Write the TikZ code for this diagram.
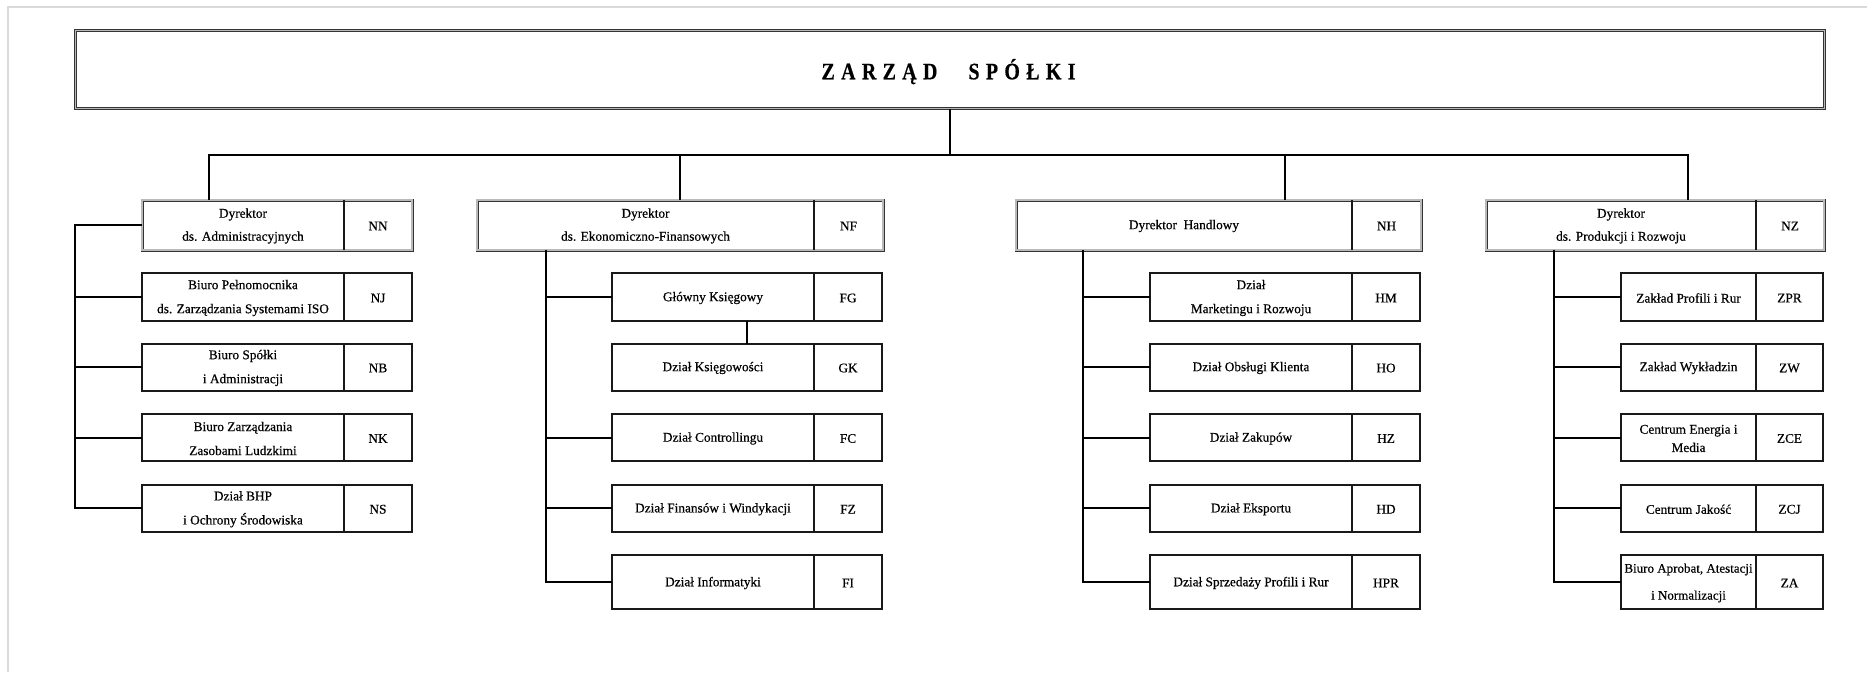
\documentclass[tikz,border=0pt]{standalone}
\usepackage{fontspec}
\setmainfont{Liberation Serif}[FakeBold=0.5]
\usepackage{graphicx}
\usetikzlibrary{calc}

\newcommand\unitbox[9]{% name, x1, y1, xdiv, x2, y2, text, code, baselineskip
  \node[childbox, minimum width={#5-#2}, minimum height={#6-#3}] (#1) at (#2,#3) {};
  \draw[boxline] (#4,#3) -- (#4,#6);
  \node[lbl, font={\fontsize{13.3}{#9}\selectfont}] (#1-t) at ({(#2+#4)/2},{(#3+#6)/2}) {#7};
  \node[lbl] (#1-c) at ({(#4+#5)/2},{(#3+#6)/2}) {#8};}

\newcommand\dirunit[9]{% name, x1, y1, xdiv, x2, y2, text, code, baselineskip
  \node[dirbox, minimum width={#5-#2}, minimum height={#6-#3}] (#1) at (#2,#3) {};
  \draw[dirline] (#4,#3) -- (#4,#6);
  \node[lbl, font={\fontsize{13.3}{#9}\selectfont}] (#1-t) at ({(#2+#4)/2},{(#3+#6)/2}) {#7};
  \node[lbl] (#1-c) at ({(#4+#5)/2},{(#3+#6)/2}) {#8};}

\begin{document}
\begin{tikzpicture}[x=1pt,y=-1pt,
  boxline/.style={draw=black!90, line width=2pt},
  dirline/.style={draw=black!90, line width=1.6pt},
  childbox/.style={rectangle, boxline, anchor=north west, inner sep=0pt, outer sep=0pt},
  dirbox/.style={rectangle, draw=black!80, line width=0.9pt, double=gray!55, double distance=1.2pt, anchor=north west, inner sep=0pt, outer sep=0pt},
  topbox/.style={rectangle, draw=black!80, line width=0.9pt, double=gray!55, double distance=1.6pt, anchor=north west, inner sep=0pt, outer sep=0pt},
  lbl/.style={align=center, inner sep=0pt, yshift=-1pt, font={\fontsize{13.3}{24}\selectfont}},
  conn/.style={draw=black, line width=2pt},
  pageframe/.style={draw=black!15, line width=1.5pt}]

\useasboundingbox (0,0) rectangle (1867,672);
\fill[white] (0,0) rectangle (1867,672);
\draw[pageframe] (8,672) -- (8,7) -- (1867,7);

% top box
\node[topbox, minimum width=1749, minimum height=78] (top) at (75.5,30.5) {};
\node[anchor=base, inner sep=0pt] (title) at (948.5,79.3) {\scalebox{1}[1.18]{\fontsize{20}{24}\selectfont\bfseries
  Z\kern6.3pt A\kern6.3pt R\kern6.3pt Z\kern6.3pt Ą\kern6.3pt D\hspace{31pt}S\kern6.3pt P\kern6.3pt Ó\kern6.3pt Ł\kern6.3pt K\kern6.3pt I}};

% directors
\dirunit{nn}{142}{200}{344}{412}{250}{Dyrektor\\ds. Administracyjnych}{NN}{23}
\dirunit{nf}{477}{200}{814}{883}{250}{Dyrektor\\ds. Ekonomiczno-Finansowych}{NF}{23}
\dirunit{nh}{1016}{200}{1352}{1421}{250}{Dyrektor\ \ Handlowy}{NH}{23}
\dirunit{nz}{1486}{200}{1756}{1824}{250}{Dyrektor\\ds. Produkcji i Rozwoju}{NZ}{23}

% administration
\unitbox{nj}{142}{273}{344}{412}{321}{Biuro Pełnomocnika\\ds. Zarządzania Systemami ISO}{NJ}{24}
\unitbox{nb}{142}{343.5}{344}{412}{390.5}{Biuro Spółki\\i Administracji}{NB}{24}
\unitbox{nk}{142}{414}{344}{412}{461}{Biuro Zarządzania\\Zasobami Ludzkimi}{NK}{24}
\unitbox{ns}{142}{484.5}{344}{412}{532}{Dział BHP\\i Ochrony Środowiska}{NS}{24}

% finance
\unitbox{fg}{612}{273}{814}{882}{321}{Główny Księgowy}{FG}{24}
\unitbox{gk}{612}{343.5}{814}{882}{390.5}{Dział Księgowości}{GK}{24}
\unitbox{fc}{612}{414}{814}{882}{461}{Dział Controllingu}{FC}{24}
\unitbox{fz}{612}{484.5}{814}{882}{532}{Dział Finansów i Windykacji}{FZ}{24}
\unitbox{fi}{612}{555}{814}{882}{609}{Dział Informatyki}{FI}{24}

% trade
\unitbox{hm}{1150}{273}{1352}{1420}{321}{Dział\\Marketingu i Rozwoju}{HM}{24}
\unitbox{ho}{1150}{343.5}{1352}{1420}{390.5}{Dział Obsługi Klienta}{HO}{24}
\unitbox{hz}{1150}{414}{1352}{1420}{461}{Dział Zakupów}{HZ}{24}
\unitbox{hd}{1150}{484.5}{1352}{1420}{532}{Dział Eksportu}{HD}{24}
\unitbox{hpr}{1150}{555}{1352}{1420}{609}{Dział Sprzedaży Profili i Rur}{HPR}{24}

% production
\unitbox{zpr}{1621}{273}{1756}{1823}{321}{Zakład Profili i Rur}{ZPR}{24}
\unitbox{zw}{1621}{343.5}{1756}{1823}{390.5}{Zakład Wykładzin}{ZW}{24}
\unitbox{zce}{1621}{414}{1756}{1823}{461}{Centrum Energia i\\Media}{ZCE}{18.3}
\unitbox{zcj}{1621}{484.5}{1756}{1823}{532}{Centrum Jakość}{ZCJ}{24}
\unitbox{za}{1621}{555}{1756}{1823}{609}{{\fontsize{13}{27}\selectfont Biuro Aprobat, Atestacji}\\{\fontsize{13}{27}\selectfont i Normalizacji}}{ZA}{27}

% top-level connectors
\coordinate (busL) at (209,155);
\coordinate (busR) at (1688,155);
\coordinate (nfin) at (680,155);
\coordinate (nhin) at (1285,155);
\draw[conn] (top.south) -- (top.south |- busL);
\draw[conn] (nn.north -| busL) -- (busL) -- (busR) -- (nz.north -| busR);
\draw[conn] (nfin) -- (nfin |- nf.north);
\draw[conn] (nhin) -- (nhin |- nh.north);

% administration spine
\coordinate (asp) at (75,0);
\draw[conn] (nn.west) -- (nn.west -| asp) |- (ns.west);
\foreach \n in {nj,nb,nk} \draw[conn] (\n.west -| asp) -- (\n.west);

% finance spine
\coordinate (fsp) at (546,0);
\draw[conn] (nf.south -| fsp) |- (fi.west);
\foreach \n in {fg,fc,fz} \draw[conn] (\n.west -| fsp) -- (\n.west);
\coordinate (fgk) at (747,0);
\draw[conn] (fg.south -| fgk) -- (gk.north -| fgk);

% trade spine
\coordinate (hsp) at (1083,0);
\draw[conn] (nh.south -| hsp) |- (hpr.west);
\foreach \n in {hm,ho,hz,hd} \draw[conn] (\n.west -| hsp) -- (\n.west);

% production spine
\coordinate (zsp) at (1554,0);
\draw[conn] (nz.south -| zsp) |- (za.west);
\foreach \n in {zpr,zw,zce,zcj} \draw[conn] (\n.west -| zsp) -- (\n.west);
\end{tikzpicture}
\end{document}
